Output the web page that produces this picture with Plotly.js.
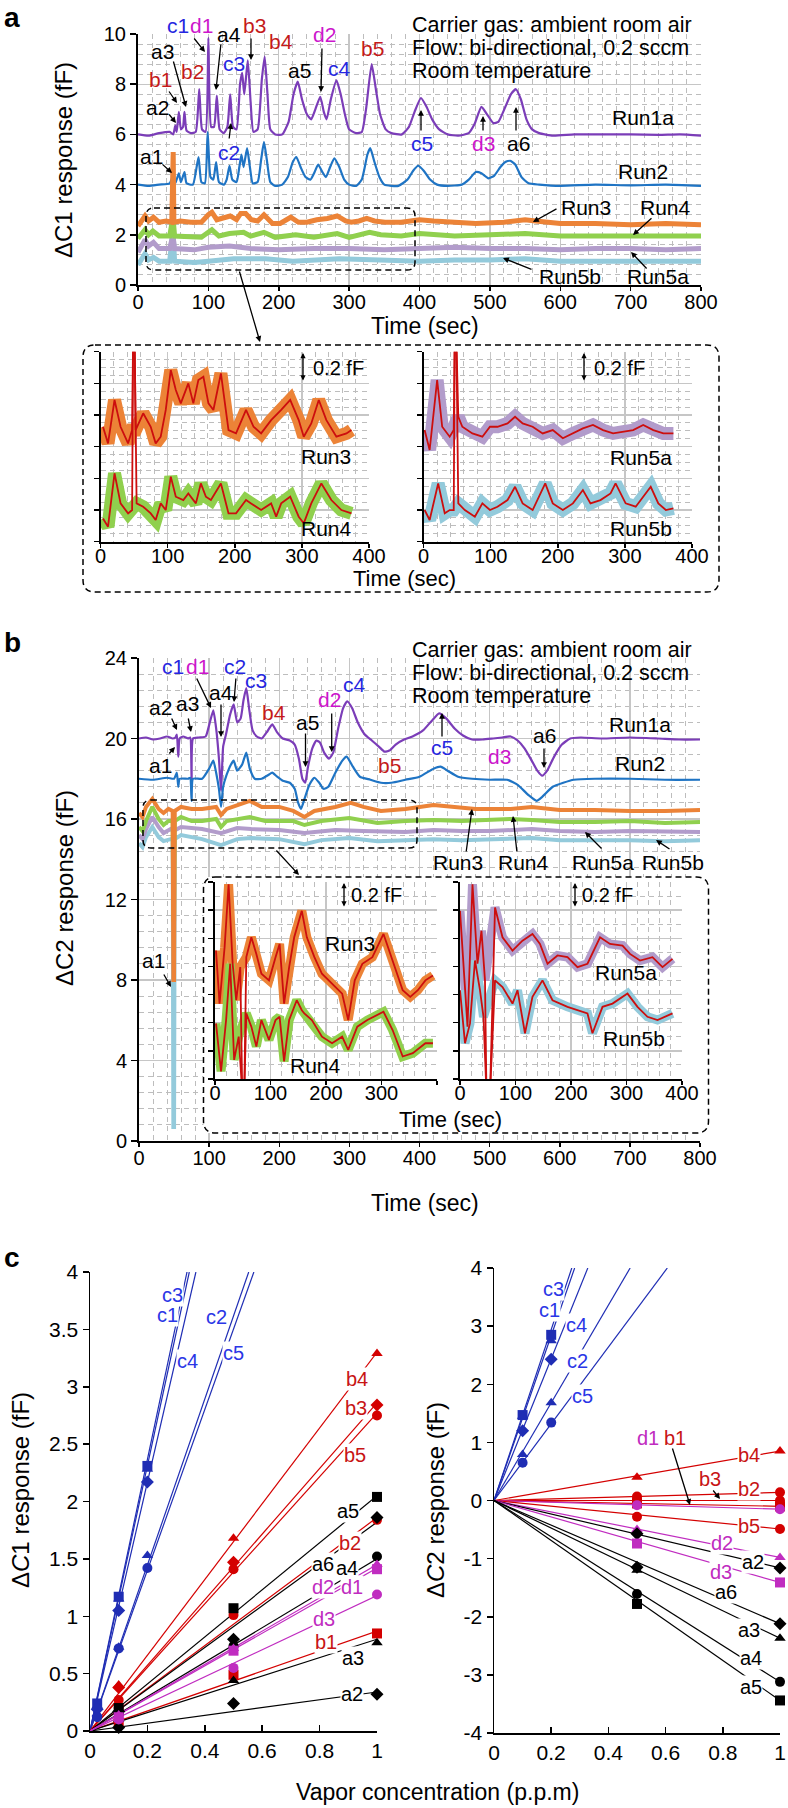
<!DOCTYPE html>
<html><head><meta charset="utf-8">
<script src="https://cdn.plot.ly/plotly-3.0.1.min.js"></script>
<style>html,body{margin:0;padding:0;background:#fff}#chart{width:788px;height:1808px}</style>
</head><body><div id="chart"></div>
<script>
// ---------------- DATA ----------------
// Panel a main: time (s) and ΔC1 (fF)
const T_A1 = [0,15,30,45,50,53,55,58,61,64,66,69,75,82,87,91,96,100,104,108,112,116,122,127,131,135,140,145,148,151,156,160,164,170,176,180,184,188,195,205,214,221,227,233,240,246,252,259,264,268,274,282,288,294,300,310,318,324,332,338,344,352,360,375,385,393,402,410,418,428,440,455,470,478,488,496,505,512,522,530,537,544,552,560,570,590,620,660,700,740,770,800];
const V_A1 = [6.0,5.95,6.05,6.1,6.0,6.35,6.1,6.9,6.2,6.3,6.9,6.15,6.05,6.1,7.8,6.2,6.1,9.85,6.3,6.3,7.55,6.2,6.05,6.3,7.6,6.3,6.2,8.0,8.45,7.6,8.95,7.3,6.1,6.2,8.2,9.1,7.6,6.2,6.0,6.0,6.5,7.6,8.1,7.4,6.8,6.6,7.0,7.5,6.9,6.6,7.4,8.15,7.6,6.8,6.2,6.05,6.1,7.0,8.8,7.8,6.8,6.2,6.05,6.0,6.3,6.9,7.45,7.1,6.6,6.2,6.0,5.95,6.05,6.4,7.1,6.8,6.45,6.5,7.1,7.6,7.8,7.4,6.6,6.2,6.05,5.95,6.0,6.0,6.0,5.98,6.0,5.95];
const T_A2 = [0,15,30,45,50,53,58,61,66,69,78,86,90,95,99,103,107,111,115,122,126,130,134,140,144,147,150,155,159,163,170,175,179,183,188,195,205,213,220,225,231,238,245,251,256,262,267,273,279,286,293,300,310,318,326,330,336,343,350,370,383,391,398,406,415,425,440,460,470,480,488,498,506,515,522,529,536,545,555,570,600,650,700,750,800];
const V_A2 = [4.0,3.95,4.0,4.05,4.35,4.05,4.45,4.1,4.5,4.05,4.0,5.1,4.1,4.05,6.1,4.3,4.2,4.9,4.1,4.0,4.2,4.75,4.2,4.1,4.7,5.2,4.7,5.45,4.7,4.05,4.1,5.0,5.7,5.0,4.1,3.95,4.0,4.3,4.9,5.1,4.7,4.3,4.2,4.5,4.8,4.5,4.3,4.7,5.05,4.7,4.2,4.0,3.95,4.2,5.2,5.45,4.9,4.3,4.0,3.95,4.2,4.55,4.75,4.55,4.2,4.0,3.95,4.0,4.2,4.5,4.45,4.25,4.35,4.7,4.9,4.95,4.8,4.3,4.05,4.0,3.95,4.0,3.97,4.0,3.95];
const T_A3 = [0,5,10,15,22,30,40,48,49,50,51,60,75,90,100,105,112,120,131,140,146,153,161,170,179,191,202,217,228,240,254,269,283,295,303,314,325,336,351,374,400,420,450,480,520,550,565,600,650,700,750,800];
const V_A3 = [2.35,2.6,2.75,2.55,2.7,2.5,2.55,2.5,5.3,5.3,2.5,2.55,2.5,2.5,2.8,2.9,2.6,2.65,2.75,2.6,2.85,2.85,2.6,2.55,2.8,2.45,2.45,2.7,2.5,2.5,2.6,2.65,2.75,2.55,2.5,2.55,2.65,2.55,2.5,2.5,2.6,2.55,2.5,2.45,2.5,2.6,2.55,2.45,2.45,2.4,2.45,2.4];
const T_A4 = [0,5,10,15,21,30,45,49,50,52,75,90,105,115,130,150,160,179,195,224,250,283,300,329,345,374,400,450,500,550,600,650,700,750,800];
const V_A4 = [1.85,2.05,2.2,2.0,2.15,1.95,1.95,2.6,2.6,1.95,1.9,1.9,2.2,1.95,2.05,2.1,1.95,2.1,1.9,2.0,1.9,2.05,1.9,2.1,2.0,1.95,2.05,1.95,2.0,2.05,1.95,1.95,1.95,1.97,1.95];
const T_A5a = [0,5,10,15,22,30,45,49,50,52,80,100,130,160,200,250,300,350,400,450,500,550,600,650,700,750,800];
const V_A5a = [1.3,1.6,1.8,1.55,1.7,1.45,1.45,1.9,1.9,1.45,1.4,1.5,1.55,1.45,1.4,1.45,1.45,1.4,1.45,1.5,1.45,1.45,1.4,1.45,1.45,1.4,1.45];
const T_A5b = [0,5,10,15,22,30,45,49,50,52,80,100,136,181,220,286,339,400,450,500,550,600,650,700,750,800];
const V_A5b = [0.8,1.05,1.25,1.0,1.1,0.95,0.95,2.0,2.0,0.95,0.9,0.95,1.05,1.05,0.95,1.05,1.0,0.95,1.0,1.0,1.05,0.95,0.95,0.95,0.97,0.95];

// Panel a insets (smoothed red lines; fF offset within the inset)
const T_IA3 = [3.7,11.2,20.9,29.9,41.1,47.1,48.6,50.8,52.3,63.6,74.8,82.2,89.7,97.2,104.7,112.2,119.6,130.8,138.3,145.8,153.3,160.8,168.2,179.4,190.7,201.9,216.8,228.0,239.3,254.2,269.2,282.6,295.3,302.8,314.0,325.2,336.5,351.4,366.4,373.9];
const V_IA3 = [0.726,0.621,0.895,0.726,0.621,0.705,1.3,1.3,0.705,0.811,0.726,0.621,0.663,0.832,1.084,0.958,0.874,1.0,0.874,1.021,1.042,0.874,0.832,1.063,0.705,0.684,0.832,0.726,0.684,0.768,0.832,0.895,0.768,0.663,0.747,0.895,0.768,0.663,0.684,0.705];
const T_IA4 = [3.7,11.2,20.9,29.9,41.1,47.1,48.6,50.8,53.8,63.6,74.8,82.2,89.7,97.2,104.7,112.2,123.4,130.8,142.1,149.5,157.0,164.5,179.4,190.7,201.9,216.8,224.3,239.3,254.2,261.7,269.2,282.6,295.3,302.8,314.0,329.0,343.9,358.9,373.9];
const V_IA4 = [0.147,0.095,0.432,0.242,0.179,0.2,1.3,1.3,0.242,0.221,0.179,0.137,0.242,0.2,0.411,0.284,0.263,0.305,0.242,0.368,0.284,0.263,0.368,0.179,0.179,0.263,0.242,0.2,0.242,0.158,0.242,0.284,0.158,0.116,0.242,0.368,0.263,0.2,0.179];
const T_IA5a = [1.5,9.0,20.2,27.7,38.9,44.9,46.4,48.7,51.7,57.7,72.7,87.6,98.9,110.1,125.1,136.3,147.6,162.5,177.5,192.5,207.5,222.5,237.4,252.4,267.4,282.4,297.4,312.3,327.3,342.3,357.3,372.3];
const V_IA5a = [0.705,0.579,1.021,0.726,0.663,0.705,1.3,1.3,0.789,0.726,0.684,0.663,0.726,0.726,0.747,0.789,0.747,0.726,0.684,0.705,0.653,0.684,0.716,0.737,0.705,0.684,0.695,0.705,0.737,0.705,0.684,0.684];
const T_IA5b = [1.5,9.0,21.7,31.5,38.9,44.9,46.4,48.7,51.7,61.4,76.4,87.6,98.9,110.1,125.1,136.3,147.6,162.5,181.3,192.5,207.5,222.5,237.4,248.7,263.6,278.6,286.1,301.1,316.1,338.5,349.8,361.0,372.3];
const V_IA5b = [0.2,0.137,0.368,0.179,0.2,0.2,1.3,1.3,0.242,0.2,0.158,0.242,0.2,0.221,0.263,0.347,0.242,0.2,0.368,0.242,0.2,0.242,0.326,0.242,0.263,0.305,0.368,0.242,0.221,0.347,0.242,0.2,0.211];

// Panel b main: ΔC2 (fF)
const T_B1 = [0,10,20,30,40,48,52,54,56,58,63,70,73,75,77,85,95,101,106,110,114,117,120,124,130,135,140,145,149,153,157,162,168,175,182,190,197,205,215,222,228,233,237,241,247,253,258,264,271,277,284,291,297,304,312,322,332,342,350,357,366,378,390,405,418,428,438,450,462,475,490,505,518,530,540,550,560,568,575,582,592,603,615,630,660,700,740,770,800];
const V_B1 = [20.0,20.05,19.95,20.0,20.1,20.0,20.05,20.2,19.1,20.0,20.1,20.0,20.05,17.9,20.0,20.05,20.1,20.8,21.4,20.5,19.0,17.4,19.6,20.2,21.2,21.7,20.8,21.0,21.9,22.5,21.5,20.4,20.1,20.0,20.3,20.7,20.3,20.0,19.9,19.7,19.0,18.0,17.8,18.6,19.5,19.9,19.8,19.3,19.0,19.3,20.5,21.5,21.85,21.5,20.8,20.2,19.9,19.6,19.35,19.4,19.7,19.95,20.1,20.4,20.9,21.25,21.0,20.5,20.15,19.95,19.95,20.0,20.05,20.1,19.9,19.5,18.9,18.4,18.15,18.4,19.1,19.7,20.0,20.05,20.0,20.05,20.0,19.95,19.95];
const T_B2 = [0,20,40,50,54,56,58,70,73,75,77,90,100,106,110,114,117,120,125,131,135,140,147,153,158,165,175,185,190,197,205,215,222,227,231,236,243,250,257,263,270,280,290,296,305,315,330,345,360,380,400,420,430,440,455,475,500,525,540,555,567,575,590,605,620,650,700,750,800];
const V_B2 = [18.0,17.95,18.05,18.0,18.3,17.6,18.0,18.0,18.05,16.9,18.0,18.0,18.5,18.9,18.3,17.5,16.6,17.6,18.2,18.7,18.9,18.4,18.7,19.3,18.5,18.0,18.0,18.2,18.3,18.1,17.9,17.8,17.5,16.8,16.5,17.0,17.7,18.05,17.8,17.5,17.6,18.3,18.9,19.1,18.6,18.1,17.95,17.8,17.8,17.95,18.1,18.5,18.6,18.4,18.1,18.0,17.95,17.95,17.7,17.2,16.9,17.1,17.6,17.8,17.95,18.0,18.0,17.95,17.95];
const T_B3 = [0,5,10,19,28,35,42,48,49,50,51,60,75,90,110,117,125,140,158,175,200,220,236,250,280,302,320,345,380,420,450,480,530,560,600,650,700,750,800];
const V_B3 = [16.3,16.1,16.6,17.0,16.5,16.3,16.5,16.4,8.0,8.0,16.4,16.6,16.5,16.5,16.6,16.2,16.5,16.7,16.9,16.6,16.6,16.4,16.1,16.4,16.6,16.8,16.6,16.4,16.5,16.7,16.6,16.5,16.5,16.6,16.45,16.45,16.4,16.4,16.45];
const T_B4 = [0,5,10,19,28,35,42,48,49,50,51,60,75,90,110,117,125,140,158,180,220,236,260,300,340,380,420,460,500,530,560,600,650,700,750,800];
const V_B4 = [15.6,15.4,15.9,16.6,16.0,15.7,15.9,15.9,11.0,11.0,15.9,16.1,15.9,15.9,16.0,15.6,15.9,16.0,16.1,15.9,15.9,15.7,15.9,16.05,15.8,15.9,15.95,15.9,15.95,16.0,15.95,15.85,15.85,15.9,15.8,15.85];
const T_B5a = [0,5,10,19,28,35,45,49,60,90,117,140,160,200,236,280,320,380,420,460,500,560,600,650,700,750,800];
const V_B5a = [15.2,15.0,15.5,16.1,15.6,15.3,15.5,15.4,15.6,15.5,15.3,15.55,15.5,15.45,15.3,15.45,15.4,15.35,15.45,15.4,15.4,15.5,15.4,15.35,15.4,15.35,15.35];
const T_B5b = [0,5,10,19,28,35,45,48,49,50,51,60,90,117,140,160,200,236,260,300,340,380,420,460,500,560,600,650,700,750,800];
const V_B5b = [14.8,14.6,15.1,15.6,15.1,14.9,15.0,15.0,0.7,0.7,15.0,15.2,15.0,14.7,15.0,15.05,15.0,14.75,14.95,15.05,14.9,14.95,15.0,14.95,15.0,15.05,14.95,14.95,14.95,14.9,14.95];

// Panel b insets
const T_IB3 = [1.8,8.2,17.3,24.5,31.8,38.2,45.5,49.1,52.7,56.4,65.5,74.5,83.6,97.3,109.1,116.4,124.5,133.6,142.7,156.4,165.5,179.1,192.7,210.9,229.1,240.0,251.8,265.5,283.6,303.6,320.0,338.2,351.8,365.5,379.1,392.7];
const V_IB3 = [0.913,0.536,0.936,1.384,0.819,0.56,0.795,-0.1,-0.1,0.866,1.007,0.889,0.748,0.701,0.866,0.96,0.536,0.795,1.007,1.195,1.007,0.866,0.748,0.678,0.607,0.419,0.701,0.819,0.866,1.031,0.842,0.631,0.584,0.631,0.701,0.736];
const T_IB4 = [1.8,10.9,20.0,27.3,34.5,42.7,49.1,52.7,56.4,65.5,74.5,83.6,97.3,109.1,116.4,124.5,133.6,147.3,156.4,160.9,174.5,192.7,210.9,229.1,240.0,256.4,274.5,303.6,320.0,338.2,356.4,379.1,392.7];
const V_IB4 = [0.395,0.054,0.419,0.819,0.136,0.301,-0.1,-0.1,0.466,0.372,0.231,0.419,0.278,0.419,0.442,0.125,0.419,0.56,0.489,0.466,0.419,0.301,0.254,0.301,0.207,0.372,0.419,0.478,0.348,0.16,0.184,0.254,0.254];
const T_IB5a = [0,6.3,13.5,22.5,31.5,38.7,45.0,47.7,54.1,63.1,76.6,94.6,112.6,130.6,144.1,157.7,175.7,193.7,211.7,229.7,252.3,270.3,292.8,306.3,324.3,346.8,364.9,382.9];
const V_IB5a = [1.195,0.842,0.372,1.384,0.819,1.054,0.701,-0.1,-0.1,1.219,1.007,0.913,0.983,1.031,0.96,0.819,0.878,0.866,0.795,0.819,1.007,0.96,0.948,0.889,0.842,0.866,0.795,0.854];
const T_IB5b = [0,9.0,18.0,27.0,36.0,42.3,47.7,54.1,63.1,76.6,94.6,103.6,117.1,130.6,148.6,166.7,193.7,211.7,229.7,238.7,256.8,274.8,301.8,319.8,337.8,355.9,382.9];
const V_IB5b = [0.631,0.254,0.395,0.842,0.631,0.442,-0.1,-0.1,0.701,0.654,0.536,0.631,0.325,0.584,0.701,0.56,0.513,0.489,0.466,0.325,0.513,0.536,0.607,0.513,0.442,0.419,0.466];

// Panel c: vapour concentration (p.p.m) vs response (fF)
const C_NAMES = ['c3','c1','c4','c2','c5'];
const CL_X = [0.025, 0.1, 0.2];
const CL_Y = [[0.24,1.17,2.31],[0.22,1.15,2.28],[0.19,1.05,2.17],[0.15,0.73,1.53],[0.12,0.72,1.42]];
const CL_FIT_END_X = [0.338,0.346,0.369,0.553,0.571];
const CL_FIT_END_Y = [4,4,4,4,4];
const L_NAMES = ['b4','b3','b5','b2','b1','a5','a6','a4','a3','a2','d2','d1','d3'];
const L_X = [0.1, 0.5, 1];
const L_Y = [[0.4,1.68,3.29],[0.38,1.47,2.84],[0.27,1.41,2.75],[0.2,1.01,1.84],[0.07,0.49,0.85],[0.2,1.07,2.04],[0.17,0.8,1.86],[0.15,0.74,1.52],[0.1,0.44,0.77],[0.03,0.24,0.32],[0.14,0.72,1.45],[0.12,0.7,1.41],[0.1,0.55,1.19]];
const L_FIT_END_Y = [3.3,2.86,2.77,1.86,0.87,2.05,1.82,1.5,0.8,0.34,1.45,1.42,1.18];
const CR_X = [0.1, 0.2];
const CR_Y = [[1.47,2.85],[1.45,2.75],[1.2,2.43],[0.79,1.68],[0.65,1.34]];
const CR_FIT_END_X = [0.272,0.282,0.328,0.476,0.606];
const CR_FIT_END_Y = [4,4,4,4,4];
const R_NAMES = ['b4','b2','b3','b1','d1','b5','d2','a2','d3','a6','a3','a4','a5'];
const R_X = [0.5, 1];
const R_Y = [[0.4,0.85],[0.07,0.14],[0.02,0.0],[-0.05,-0.1],[-0.08,-0.15],[-0.28,-0.49],[-0.5,-0.98],[-0.57,-1.16],[-0.74,-1.41],[-1.15,-2.12],[-1.2,-2.37],[-1.61,-3.12],[-1.78,-3.44]];
const R_FIT_END_Y = [0.85,0.14,0.0,-0.1,-0.15,-0.49,-0.98,-1.16,-1.41,-2.12,-2.37,-3.12,-3.44];

// tick labels
const C_LEFT_Y_TICKS = [0,0.5,1,1.5,2,2.5,3,3.5,4];
const C_RIGHT_Y_TICKS = [-4,-3,-2,-1,0,1,2,3,4];
const C_RIGHT_Y_TEXT = ['-4','-3','-2','-1','0','1','2','3','4'];
const C_X_TICKS = [0,0.2,0.4,0.6,0.8,1];
const IN_TICKS = [0,100,200,300,400];
const IN_B_LEFT_TEXT = ['0','100','200','300',''];

// ---------------- STYLE / LAYOUT ----------------
const W = 788, H = 1808;
const fx = p => p / W;
const fy = p => 1 - p / H;
const FONT = 'Liberation Sans, Arial, sans-serif';
const GRID = '#c6c6c6', MINOR = '#bdbdbd', DASH = '5px,4px';
const COL = {purple:'#7B3DB8', blue:'#1F74C4', orange:'#EC8337', green:'#90D04E', lav:'#B29CCB', lblue:'#93CADB', red:'#CC0E0E'};
const LABCOL = {a:'#000000', b:'#C41A1A', c:'#2626E0', d:'#CC16CC'};
const CCOL = {a:'#000000', b:'#D40000', c:'#1F2DB4', d:'#C02CC0'};
const CLAB = {a:'#000000', b:'#C81414', c:'#2A36E6', d:'#C02CC0'};
const SYM = {c3:'square',c1:'triangle-up',c4:'diamond',c2:'triangle-up',c5:'circle',
  b4:'triangle-up',b3:'diamond',b5:'circle',b2:'circle',b1:'square',
  a5:'square',a6:'diamond',a4:'circle',a3:'triangle-up',a2:'diamond',
  d2:'triangle-up',d1:'square',d3:'circle'};
const SYM_R = Object.assign({}, SYM, {b3:'circle', d1:'circle', d3:'square'});

function line(x, y, xa, ya, color, width, smooth) {
  const ln = {color:color, width:width};
  if (smooth) { ln.shape = 'spline'; ln.smoothing = smooth; }
  return {type:'scatter', mode:'lines', x:x, y:y, xaxis:xa, yaxis:ya,
    line:ln, hoverinfo:'skip', showlegend:false};
}
function band(t, v, lo, hi) {
  const x = [], y = [];
  for (let i = 0; i < t.length; i++) { if (v[i] >= lo && v[i] <= hi) { x.push(t[i]); y.push(v[i]); } }
  return [x, y];
}

const traces = [];
// panel b main (x2/y2)
traces.push(line(T_B1, V_B1, 'x2', 'y2', COL.purple, 2.2, 0.5));
traces.push(line(T_B2, V_B2, 'x2', 'y2', COL.blue, 2.2, 0.5));
traces.push(line(T_B5b, V_B5b, 'x2', 'y2', COL.lblue, 4));
traces.push(line(T_B5a, V_B5a, 'x2', 'y2', COL.lav, 4));
traces.push(line(T_B4, V_B4, 'x2', 'y2', COL.green, 4));
traces.push(line(T_B3, V_B3, 'x2', 'y2', COL.orange, 4));
// white cover under the panel-b inset box (x3/y3)
traces.push({type:'scatter', mode:'lines', x:[], y:[], xaxis:'x3', yaxis:'y3', showlegend:false, hoverinfo:'skip'});
// panel b insets (x4/y4 left, x5/y5 right)
[[T_IB3, V_IB3, COL.orange, 'x4', 'y4'], [T_IB4, V_IB4, COL.green, 'x4', 'y4'],
 [T_IB5a, V_IB5a, COL.lav, 'x5', 'y5'], [T_IB5b, V_IB5b, COL.lblue, 'x5', 'y5']].forEach(s => {
  const b = band(s[0], s[1], 0, 2);
  traces.push(line(b[0], b[1], s[3], s[4], s[2], 9));
});
[[T_IB3, V_IB3, 'x4', 'y4'], [T_IB4, V_IB4, 'x4', 'y4'], [T_IB5a, V_IB5a, 'x5', 'y5'], [T_IB5b, V_IB5b, 'x5', 'y5']].forEach(s => {
  traces.push(line(s[0], s[1], s[2], s[3], COL.red, 1.8));
});
// panel a main (x6/y6)
traces.push(line(T_A1, V_A1, 'x6', 'y6', COL.purple, 2.2, 0.5));
traces.push(line(T_A2, V_A2, 'x6', 'y6', COL.blue, 2.2, 0.5));
traces.push(line(T_A5b, V_A5b, 'x6', 'y6', COL.lblue, 5));
traces.push(line(T_A5a, V_A5a, 'x6', 'y6', COL.lav, 5));
traces.push(line(T_A4, V_A4, 'x6', 'y6', COL.green, 5));
traces.push(line(T_A3, V_A3, 'x6', 'y6', COL.orange, 5));
// panel a insets (x7/y7 left, x8/y8 right)
[[T_IA3, V_IA3, COL.orange, 'x7', 'y7'], [T_IA4, V_IA4, COL.green, 'x7', 'y7'],
 [T_IA5a, V_IA5a, COL.lav, 'x8', 'y8'], [T_IA5b, V_IA5b, COL.lblue, 'x8', 'y8']].forEach(s => {
  const b = band(s[0], s[1], -1, 1.25);
  traces.push(line(b[0], b[1], s[3], s[4], s[2], 13));
});
[[T_IA3, V_IA3, 'x7', 'y7'], [T_IA4, V_IA4, 'x7', 'y7'], [T_IA5a, V_IA5a, 'x8', 'y8'], [T_IA5b, V_IA5b, 'x8', 'y8']].forEach(s => {
  traces.push(line(s[0], s[1], s[2], s[3], COL.red, 1.8));
});
// panel c right (x9/y9)
C_NAMES.forEach((n, i) => {
  traces.push(line([0, CR_FIT_END_X[i]], [0, CR_FIT_END_Y[i]], 'x9', 'y9', CCOL.c, 1.2));
});
R_NAMES.forEach((n, i) => {
  traces.push(line([0, 1], [0, R_FIT_END_Y[i]], 'x9', 'y9', CCOL[n[0]], 1.2));
});
C_NAMES.forEach((n, i) => {
  traces.push({type:'scatter', mode:'markers', x:CR_X, y:CR_Y[i], xaxis:'x9', yaxis:'y9', cliponaxis:false,
    marker:{symbol:SYM_R[n], size:10, color:CCOL.c}, hoverinfo:'skip', showlegend:false});
});
R_NAMES.forEach((n, i) => {
  traces.push({type:'scatter', mode:'markers', x:R_X, y:R_Y[i], xaxis:'x9', yaxis:'y9', cliponaxis:false,
    marker:{symbol:SYM_R[n], size:10, color:CCOL[n[0]]}, hoverinfo:'skip', showlegend:false});
});
// panel c left (x/y)
C_NAMES.forEach((n, i) => {
  traces.push(line([0, CL_FIT_END_X[i]], [0, CL_FIT_END_Y[i]], 'x', 'y', CCOL.c, 1.2));
});
L_NAMES.forEach((n, i) => {
  traces.push(line([0, 1], [0, L_FIT_END_Y[i]], 'x', 'y', CCOL[n[0]], 1.2));
});
C_NAMES.forEach((n, i) => {
  traces.push({type:'scatter', mode:'markers', x:CL_X, y:CL_Y[i], xaxis:'x', yaxis:'y', cliponaxis:false,
    marker:{symbol:SYM[n], size:10, color:CCOL.c}, hoverinfo:'skip', showlegend:false});
});
L_NAMES.forEach((n, i) => {
  traces.push({type:'scatter', mode:'markers', x:L_X, y:L_Y[i], xaxis:'x', yaxis:'y', cliponaxis:false,
    marker:{symbol:SYM[n], size:10, color:CCOL[n[0]]}, hoverinfo:'skip', showlegend:false});
});

// ----- axes -----
function gAxis(dom, anchor, range, dtick, minor, extra) {
  return Object.assign({
    domain: dom, anchor: anchor, range: range, autorange: false, tick0: 0, dtick: dtick,
    showgrid: true, gridcolor: GRID, gridwidth: 1.3,
    minor: {dtick: minor, tick0: 0, showgrid: true, gridcolor: MINOR, griddash: DASH, gridwidth: 1, ticks: ''},
    showline: true, linecolor: '#000', linewidth: 2, zeroline: false,
    ticks: 'outside', ticklen: 6, tickwidth: 1.5, tickcolor: '#000',
    tickfont: {family: FONT, size: 20, color: '#000'}, fixedrange: true
  }, extra || {});
}
function cAxis(dom, anchor, range, tickvals, ticktext, ticks, extra) {
  return Object.assign({
    domain: dom, anchor: anchor, range: range, autorange: false,
    tickmode: 'array', tickvals: tickvals, ticktext: ticktext,
    showgrid: false, zeroline: false, showline: true, linecolor: '#000', linewidth: 1.5,
    ticks: ticks, ticklen: 6, tickwidth: 1.5, tickcolor: '#000',
    tickfont: {family: FONT, size: 21, color: '#000'}, fixedrange: true
  }, extra || {});
}
const XT = {ticklen: 4, ticklabelstandoff: -6};
const XTI = {ticklen: 4, ticklabelstandoff: -9};

const layout = {
  width: W, height: H, autosize: false,
  margin: {l:0, r:0, t:0, b:0, pad:0},
  paper_bgcolor: '#ffffff', plot_bgcolor: '#ffffff',
  font: {family: FONT, color: '#000'},
  showlegend: false,
  // panel b main
  xaxis2: gAxis([fx(139), fx(700)], 'y2', [0, 800], 100, 20, XT),
  yaxis2: gAxis([fy(1141), fy(658)], 'x2', [0, 24], 4, 0.8),
  // cover
  xaxis3: {domain:[fx(203.5), fx(708.5)], anchor:'y3', range:[0,1], visible:false, fixedrange:true},
  yaxis3: {domain:[fy(1133), fy(877)], anchor:'x3', range:[0,1], visible:false, fixedrange:true},
  // panel b insets
  xaxis4: gAxis([fx(215), fx(437)], 'y4', [0, 400], 100, 20, Object.assign({tickmode:'array', tickvals:IN_TICKS, ticktext:IN_B_LEFT_TEXT}, XTI)),
  yaxis4: gAxis([fy(1079), fy(882)], 'x4', [0, 1.4], 0.2, 0.1, {showticklabels:false, ticklen:5}),
  xaxis5: gAxis([fx(460), fx(682)], 'y5', [0, 400], 100, 20, XTI),
  yaxis5: gAxis([fy(1079), fy(882)], 'x5', [0, 1.4], 0.2, 0.1, {showticklabels:false, ticklen:5}),
  // panel a main
  xaxis6: gAxis([fx(138), fx(701)], 'y6', [0, 800], 100, 20, XT),
  yaxis6: gAxis([fy(285), fy(34)], 'x6', [0, 10], 2, 0.4),
  // panel a insets
  xaxis7: gAxis([fx(100.5), fx(369)], 'y7', [0, 400], 100, 20, XTI),
  yaxis7: gAxis([fy(541.7), fy(351.7)], 'x7', [0, 1.2], 0.2, 0.05, {showticklabels:false, ticklen:5}),
  xaxis8: gAxis([fx(423.6), fx(692)], 'y8', [0, 400], 100, 20, XTI),
  yaxis8: gAxis([fy(541.7), fy(351.7)], 'x8', [0, 1.2], 0.2, 0.05, {showticklabels:false, ticklen:5}),
  // panel c right
  xaxis9: cAxis([fx(494), fx(780)], 'y9', [0, 1], C_X_TICKS, C_X_TICKS.map(String), 'inside'),
  yaxis9: cAxis([fy(1733), fy(1268)], 'x9', [-4, 4], C_RIGHT_Y_TICKS, C_RIGHT_Y_TEXT, 'outside'),
  // panel c left
  xaxis: cAxis([fx(90), fx(377)], 'y', [0, 1], C_X_TICKS, C_X_TICKS.map(String), 'inside'),
  yaxis: cAxis([fy(1731), fy(1272)], 'x', [0, 4], C_LEFT_Y_TICKS, C_LEFT_Y_TICKS.map(String), 'outside'),
  annotations: [],
  shapes: []
};

// ----- annotations -----
function txt(text, x, y, color, size, extra) {
  return Object.assign({text: text, x: fx(x), y: fy(y), xref:'paper', yref:'paper', showarrow:false,
    xanchor:'center', yanchor:'middle', font:{family:FONT, size:size || 21, color:color || '#000'}}, extra || {});
}
function arr(tx, ty, hx, hy, extra) {
  return Object.assign({text:'', x: fx(hx), y: fy(hy), xref:'paper', yref:'paper', showarrow:true,
    ax: tx - hx, ay: ty - hy, axref:'pixel', ayref:'pixel', arrowhead:2, arrowsize:0.9, arrowwidth:1.3,
    arrowcolor:'#000', standoff:0, startstandoff:0}, extra || {});
}
const A = layout.annotations;

// panel letters
A.push(txt('<b>a</b>', 12, 17, '#000', 28));
A.push(txt('<b>b</b>', 12, 642, '#000', 28));
A.push(txt('<b>c</b>', 12, 1257, '#000', 28));

// info texts
const INFO = ['Carrier gas: ambient room air', 'Flow: bi-directional, 0.2 sccm', 'Room temperature'];
const INFO_Y_A = [25, 48, 71], INFO_Y_B = [650, 673, 696];
INFO.forEach((s, i) => {
  A.push(txt(s, 410, INFO_Y_A[i], '#000', 21.5, {xanchor:'left'}));
  A.push(txt(s, 410, INFO_Y_B[i], '#000', 21.5, {xanchor:'left'}));
});

// panel a peak labels
const A_LABELS = [['c1',178,25],['d1',201,25],['a3',162,52],['a4',229,34],['b3',254,25],['b4',281,42],['b1',160,80],['b2',192,72],['c3',234,63],['a5',299,70],['d2',324,35],['c4',339,68],['b5',372,48],['a2',157,107],['a1',151,157],['c2',229,152],['c5',422,143],['d3',483,143],['a6',518,143]];
A_LABELS.forEach(l => A.push(txt(l[0], l[1], l[2], LABCOL[l[0][0]], 21)));
const A_ARROWS = [[193,37,205,52],[173,60,186,107],[221,43,216,90],[251,37,251,60],[168,90,177,103],[322,47,321,92],[168,113,176,123],[161,163,172,173],[229,140,231,123],[421,132,421,110],[483,132,483,116],[516,132,516,107],[558,208,533,222],[653,217,633,235],[533,270,503,258],[648,270,631,252],[239,270,260,342]];
A_ARROWS.forEach(a => A.push(arr(a[0], a[1], a[2], a[3])));
[['Run1a',643,117],['Run2',643,172],['Run3',586,207],['Run4',665,207],['Run5b',570,277],['Run5a',658,277]].forEach(l => A.push(txt(l[0], l[1], l[2], '#000', 21)));
A.push(txt('Time (sec)', 425, 326, '#000', 23));
A.push(txt('ΔC1 response (fF)', 63, 160, '#000', 24, {textangle:-90}));
// panel a insets
[['Run3',326,457],['Run4',326,528],['Run5a',641,458],['Run5b',641,528]].forEach(l => A.push(txt(l[0], l[1], l[2], '#000', 21)));
A.push(txt('0.2 fF', 338, 368, '#000', 20));
A.push(txt('0.2 fF', 619, 368, '#000', 20));
A.push(arr(303, 382, 303, 353, {arrowside:'end+start', arrowhead:2, arrowsize:0.8}));
A.push(arr(584, 382, 584, 353, {arrowside:'end+start', arrowhead:2, arrowsize:0.8}));
A.push(txt('Time (sec)', 404.5, 578, '#000', 22));

// panel b
const B_LABELS = [['c1',173,666],['d1',197.5,666],['a2',160,707],['a3',187,703],['a4',221,692],['c2',235,666],['c3',256,680],['b4',274,712],['a5',307.5,722],['d2',329,699],['c4',354,684],['b5',389.5,765],['c5',442,747],['d3',499,757],['a6',544,736],['a1',160,765],['a1',153,960]];
B_LABELS.forEach(l => A.push(txt(l[0], l[1], l[2], LABCOL[l[0][0]], 21)));
const B_ARROWS = [[196,677,211,708],[171,717,177,730],[188,717,191,732],[221,703,221,737],[236,677,234,702],[305.5,732,305.5,767],[331.7,712,331.7,752],[442,738,442,713],[544,747,544,768],[168,755,175,747],[466,853,472,809],[517,853,513,816],[603,850,585,832],[671,850,656,840],[275,849,299,875],[163,973,171,987]];
B_ARROWS.forEach(a => A.push(arr(a[0], a[1], a[2], a[3])));
[['Run1a',640,724],['Run2',640,763],['Run3',458,862],['Run4',523,862],['Run5a',603,862],['Run5b',673,862]].forEach(l => A.push(txt(l[0], l[1], l[2], '#000', 21)));
A.push(txt('Time (sec)', 425, 1203, '#000', 23));
A.push(txt('ΔC2 response (fF)', 64, 888, '#000', 24, {textangle:-90}));
[['Run3',350,943],['Run4',315,1065],['Run5a',626,972],['Run5b',634,1038]].forEach(l => A.push(txt(l[0], l[1], l[2], '#000', 21)));
A.push(txt('0.2 fF', 376, 895, '#000', 20));
A.push(txt('0.2 fF', 607, 895, '#000', 20));
A.push(arr(344, 908, 344, 883, {arrowside:'end+start', arrowhead:2, arrowsize:0.8}));
A.push(arr(575, 908, 575, 883, {arrowside:'end+start', arrowhead:2, arrowsize:0.8}));
A.push(txt('Time (sec)', 450, 1119, '#000', 22));

// panel c
const CL_LABELS = [['c3',172,1295],['c1',167,1315],['c4',187,1361],['c2',216,1317],['c5',233,1353],['b4',357,1379],['b3',356,1408],['b5',355,1455],['a5',348,1511],['b2',350,1543],['a6',323,1564],['a4',347,1568],['d2',323,1587],['d1',352,1587],['d3',324,1619],['b1',326,1642],['a3',353,1658],['a2',352,1694]];
const CR_LABELS = [['c3',553,1289],['c1',549,1310],['c4',576,1325],['c2',577,1361],['c5',582,1396],['d1',648,1438],['b1',675,1438],['b4',749,1455],['b3',710,1479],['b2',749,1489],['b5',749,1526],['d2',722,1543],['a2',753,1562],['d3',721,1572],['a6',726,1592],['a3',749,1630],['a4',751,1658],['a5',751,1687]];
CL_LABELS.concat(CR_LABELS).forEach(l => A.push(txt(l[0], l[1], l[2], CLAB[l[0][0]], 20, {bgcolor:'#ffffff', borderpad:0})));
A.push(arr(672, 1447, 690, 1505));
A.push(arr(712, 1489, 720, 1499));
A.push(txt('Δ<i>C</i>1 response (fF)', 20, 1490, '#000', 24, {textangle:-90}));
A.push(txt('Δ<i>C</i>2 response (fF)', 435, 1500, '#000', 24, {textangle:-90}));
A.push(txt('Vapor concentration (p.p.m)', 438, 1792, '#000', 23));

// ----- dashed rounded boxes -----
function roundBox(x0, y0, x1, y1, r) {
  const X = fx, Y = fy;
  const p = 'M ' + X(x0 + r) + ',' + Y(y0) + ' L ' + X(x1 - r) + ',' + Y(y0) +
    ' Q ' + X(x1) + ',' + Y(y0) + ' ' + X(x1) + ',' + Y(y0 + r) +
    ' L ' + X(x1) + ',' + Y(y1 - r) + ' Q ' + X(x1) + ',' + Y(y1) + ' ' + X(x1 - r) + ',' + Y(y1) +
    ' L ' + X(x0 + r) + ',' + Y(y1) + ' Q ' + X(x0) + ',' + Y(y1) + ' ' + X(x0) + ',' + Y(y1 - r) +
    ' L ' + X(x0) + ',' + Y(y0 + r) + ' Q ' + X(x0) + ',' + Y(y0) + ' ' + X(x0 + r) + ',' + Y(y0) + ' Z';
  return {type:'path', path:p, xref:'paper', yref:'paper', layer:'above',
    line:{color:'#000', width:1.5, dash:'6px,4px'}, fillcolor:'rgba(0,0,0,0)'};
}
layout.shapes.push(roundBox(146, 208, 415, 270, 8));
layout.shapes.push(roundBox(83, 345, 719, 592, 12));
layout.shapes.push(roundBox(143, 800, 417, 848, 8));
layout.shapes.push(roundBox(203.5, 877, 708.5, 1133, 12));

Plotly.newPlot('chart', traces, layout, {staticPlot:true, displayModeBar:false});
</script></body></html>
